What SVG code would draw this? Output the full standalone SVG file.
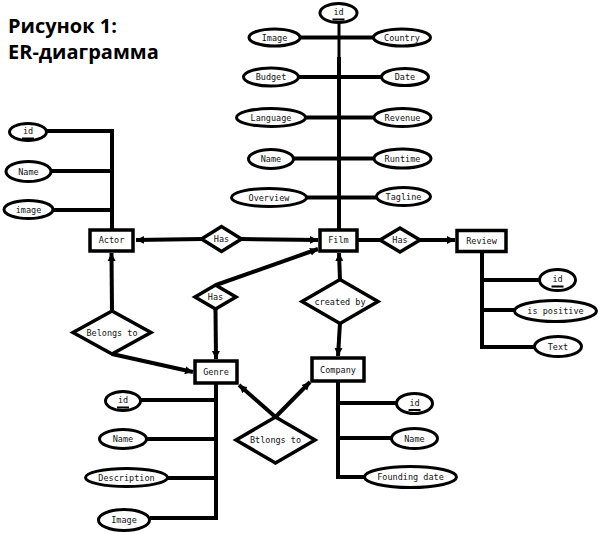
<svg xmlns="http://www.w3.org/2000/svg" width="600" height="533" viewBox="0 0 600 533">
<style>
.ent rect{fill:#fff;stroke:#000;stroke-width:3.5}
.rel polygon{fill:#fff;stroke:#000;stroke-width:3.5;stroke-linejoin:miter}
.attr ellipse{fill:#fff;stroke:#000;stroke-width:3}
.ln{stroke:#000;stroke-width:4;fill:none}
.thin{stroke:#000;stroke-width:3;fill:none}
.ul{stroke:#000;stroke-width:2}
text{font-family:"DejaVu Sans Mono","Liberation Mono",monospace;font-size:8.5px;fill:#111;text-anchor:middle}
.title{font-family:"Open Sans","Noto Sans",sans-serif;font-weight:700;font-size:20px;fill:#000;text-anchor:start}
</style>
<defs>
<marker id="arr" markerUnits="userSpaceOnUse" markerWidth="8" markerHeight="9" viewBox="0 0 8 9" refX="8" refY="4.5" orient="auto">
<path d="M0,0.5 L8,4.5 L0,8.5 Z" fill="#000"/>
</marker>
</defs>
<rect width="600" height="533" fill="#fff"/>
<g id="title">
<text class="title" x="8" y="33">Рисунок 1:</text>
<text class="title" x="8" y="59">ER-диаграмма</text>
</g>
<g id="connectors">
<path class="ln" d="M112,129 V229 M47,131 H114 M52,171 H112 M54,210 H112"/>
<path class="thin" d="M339,23 V58"/>
<path class="ln" d="M339,57 V229 M300,37.5 H373 M299,77 H381 M306,117.5 H373 M294,158.5 H374 M307,197.5 H376"/>
<path class="ln" d="M482,252 V349 M482,280 H539 M482,310 H514 M480,347 H534"/>
<path class="ln" d="M216,384 V520 M141,400 H216 M147,439 H216 M168,478 H216 M150,518 H218"/>
<path class="ln" d="M338,382 V479 M338,403 H396 M338,438 H391 M336,477 H364"/>
<path class="ln" d="M202,239 L136,240" marker-end="url(#arr)"/>
<path class="ln" d="M241,239 L318,240" marker-end="url(#arr)"/>
<path class="ln" d="M216,285 L318,249" marker-end="url(#arr)"/>
<path class="ln" d="M215.5,309 L216,359" marker-end="url(#arr)"/>
<path class="ln" d="M380,240 L358,240"/>
<path class="ln" d="M420,240 L455,240" marker-end="url(#arr)"/>
<path class="ln" d="M340,280 L339,253" marker-end="url(#arr)"/>
<path class="ln" d="M340,323 L338,356" marker-end="url(#arr)"/>
<path class="ln" d="M112,311 L111.5,253" marker-end="url(#arr)"/>
<path class="ln" d="M112,354 L193,372" marker-end="url(#arr)"/>
<path class="ln" d="M275.5,417 L239,385" marker-end="url(#arr)"/>
<path class="ln" d="M275.5,417 L310,382" marker-end="url(#arr)"/>
</g>
<g id="actor" class="ent"><rect x="90" y="230" width="43" height="21"/><text x="111.5" y="243">Actor</text></g>
<g id="film" class="ent"><rect x="320" y="230" width="37" height="21"/><text x="338.5" y="243">Film</text></g>
<g id="review" class="ent"><rect x="457" y="230.5" width="49" height="21"/><text x="481.5" y="243.5">Review</text></g>
<g id="genre" class="ent"><rect x="195" y="361" width="42" height="22"/><text x="216" y="374.5">Genre</text></g>
<g id="company" class="ent"><rect x="312" y="358" width="52" height="23"/><text x="338" y="372.5">Company</text></g>
<g id="has-actor-film" class="rel"><polygon points="201.5,239 221.5,226.5 241.5,239 221.5,251.5"/><text x="221.5" y="242">Has</text></g>
<g id="has-genre-film" class="rel"><polygon points="195,297 215.5,285 236,297 215.5,309"/><text x="215.5" y="300">Has</text></g>
<g id="has-film-review" class="rel"><polygon points="380,240 400,228 420,240 400,252"/><text x="400" y="243">Has</text></g>
<g id="created-by" class="rel"><polygon points="302,301.5 340,279.5 378,301.5 340,323.5"/><text x="340" y="304.5">created by</text></g>
<g id="belongs-to" class="rel"><polygon points="73,332.5 112,311 151,332.5 112,354"/><text x="112" y="335.5">Belongs to</text></g>
<g id="btlongs-to" class="rel"><polygon points="236,440 275.5,417 315,440 275.5,463"/><text x="275.5" y="443">Btlongs to</text></g>
<g id="actor-id" class="attr"><ellipse cx="28" cy="132" rx="18.5" ry="8.5"/><text x="28" y="134">id</text><line class="ul" x1="22" y1="138.5" x2="34" y2="138.5"/></g>
<g id="actor-name" class="attr"><ellipse cx="28.5" cy="171.5" rx="22.5" ry="10"/><text x="28.5" y="174.5">Name</text></g>
<g id="actor-image" class="attr"><ellipse cx="28.5" cy="209.5" rx="24.5" ry="9"/><text x="28.5" y="212.5">image</text></g>
<g id="film-id" class="attr"><ellipse cx="338.5" cy="13" rx="18.5" ry="9.5"/><text x="338.5" y="15">id</text><line class="ul" x1="332.5" y1="19.5" x2="344.5" y2="19.5"/></g>
<g id="film-image" class="attr"><ellipse cx="274.5" cy="37.5" rx="25.5" ry="8.5"/><text x="274.5" y="40.5">Image</text></g>
<g id="film-country" class="attr"><ellipse cx="402" cy="37.5" rx="28.5" ry="8.5"/><text x="402" y="40.5">Country</text></g>
<g id="film-budget" class="attr"><ellipse cx="271" cy="77" rx="27.5" ry="9"/><text x="271" y="80">Budget</text></g>
<g id="film-date" class="attr"><ellipse cx="405" cy="77" rx="23.5" ry="8.5"/><text x="405" y="80">Date</text></g>
<g id="film-language" class="attr"><ellipse cx="271" cy="117.5" rx="34.5" ry="9"/><text x="271" y="120.5">Language</text></g>
<g id="film-revenue" class="attr"><ellipse cx="402.5" cy="117.5" rx="28.5" ry="9"/><text x="402.5" y="120.5">Revenue</text></g>
<g id="film-name" class="attr"><ellipse cx="271" cy="159" rx="22.5" ry="9.5"/><text x="271" y="162">Name</text></g>
<g id="film-runtime" class="attr"><ellipse cx="402.5" cy="158.5" rx="28.5" ry="9.5"/><text x="402.5" y="161.5">Runtime</text></g>
<g id="film-overview" class="attr"><ellipse cx="269" cy="197.5" rx="37.5" ry="9"/><text x="269" y="200.5">Overview</text></g>
<g id="film-tagline" class="attr"><ellipse cx="403.5" cy="196.5" rx="27" ry="9"/><text x="403.5" y="199.5">Tagline</text></g>
<g id="review-id" class="attr"><ellipse cx="557.5" cy="280" rx="18" ry="10.5"/><text x="557.5" y="282">id</text><line class="ul" x1="551.5" y1="286.5" x2="563.5" y2="286.5"/></g>
<g id="review-positive" class="attr"><ellipse cx="555.5" cy="311" rx="41" ry="10.5"/><text x="555.5" y="314">is positive</text></g>
<g id="review-text" class="attr"><ellipse cx="558" cy="346.5" rx="23.5" ry="10"/><text x="558" y="349.5">Text</text></g>
<g id="genre-id" class="attr"><ellipse cx="123" cy="401" rx="17.5" ry="9.5"/><text x="123" y="403">id</text><line class="ul" x1="117" y1="407.5" x2="129" y2="407.5"/></g>
<g id="genre-name" class="attr"><ellipse cx="123" cy="439" rx="23.5" ry="9.5"/><text x="123" y="442">Name</text></g>
<g id="genre-description" class="attr"><ellipse cx="126.5" cy="477.5" rx="41" ry="9"/><text x="126.5" y="480.5">Description</text></g>
<g id="genre-image" class="attr"><ellipse cx="124" cy="520" rx="25.5" ry="10.5"/><text x="124" y="523">Image</text></g>
<g id="company-id" class="attr"><ellipse cx="414.5" cy="403.5" rx="18" ry="10"/><text x="414.5" y="405.5">id</text><line class="ul" x1="408.5" y1="410" x2="420.5" y2="410"/></g>
<g id="company-name" class="attr"><ellipse cx="414.5" cy="438.5" rx="23" ry="10"/><text x="414.5" y="441.5">Name</text></g>
<g id="company-founding" class="attr"><ellipse cx="410.5" cy="477" rx="46" ry="10.5"/><text x="410.5" y="480">Founding date</text></g>
</svg>
